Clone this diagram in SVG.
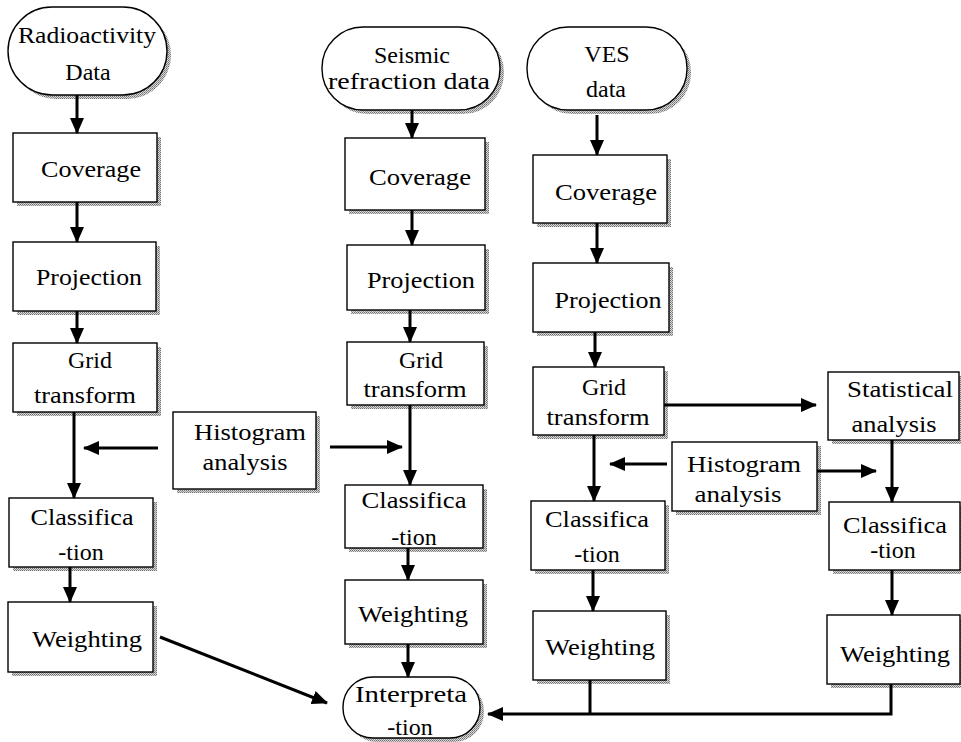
<svg xmlns="http://www.w3.org/2000/svg" width="961" height="742" viewBox="0 0 961 742">
<defs>
<marker id="ah" markerWidth="16" markerHeight="14" refX="15" refY="7" orient="auto" markerUnits="userSpaceOnUse">
<path d="M0,0 L16,7 L0,14 Z" fill="#000"/>
</marker>
<pattern id="dots" width="2" height="2" patternUnits="userSpaceOnUse">
<rect width="2" height="2" fill="#d8d8d8"/>
<rect width="1" height="1" fill="#707070"/>
<rect x="1" y="1" width="1" height="1" fill="#909090"/>
</pattern>
</defs>
<style>
.box{fill:#fff;stroke:#000;stroke-width:1.4}
.sh{fill:url(#dots);stroke:none}
.t{font-size:24px;fill:#000;text-anchor:middle}
.c{fill:none;stroke:#000;stroke-width:3}
.ca{fill:none;stroke:#000;stroke-width:3;marker-end:url(#ah)}
</style>
<rect width="961" height="742" fill="#fff"/>
<g font-family="Liberation Serif, DejaVu Serif, Times New Roman, serif">
<g id="radio">
<rect class="sh" x="12" y="11" width="159" height="88" rx="44"/>
<rect class="box" x="8" y="7" width="159" height="88" rx="44"/>
<text class="t" x="87" y="43" textLength="138" lengthAdjust="spacingAndGlyphs">Radioactivity</text>
<text class="t" x="88" y="80">Data</text>
</g>
<g id="cov1">
<rect class="sh" x="17" y="137" width="144" height="69"/>
<rect class="box" x="13" y="133" width="144" height="69"/>
<text class="t" x="91" y="177" textLength="100" lengthAdjust="spacingAndGlyphs">Coverage</text>
</g>
<g id="proj1">
<rect class="sh" x="17" y="246" width="143" height="69"/>
<rect class="box" x="13" y="242" width="143" height="69"/>
<text class="t" x="89" y="285" textLength="106" lengthAdjust="spacingAndGlyphs">Projection</text>
</g>
<g id="grid1">
<rect class="sh" x="17" y="347" width="144" height="69"/>
<rect class="box" x="13" y="343" width="144" height="69"/>
<text class="t" x="90" y="368">Grid</text>
<text class="t" x="85" y="403" textLength="102" lengthAdjust="spacingAndGlyphs">transform</text>
</g>
<g id="hist1">
<rect class="sh" x="177" y="416" width="143" height="77"/>
<rect class="box" x="173" y="412" width="143" height="77"/>
<text class="t" x="250" y="440" textLength="112" lengthAdjust="spacingAndGlyphs">Histogram</text>
<text class="t" x="245" y="470" textLength="85" lengthAdjust="spacingAndGlyphs">analysis</text>
</g>
<g id="class1">
<rect class="sh" x="13" y="502" width="144" height="69"/>
<rect class="box" x="9" y="498" width="144" height="69"/>
<text class="t" x="82" y="525" textLength="103" lengthAdjust="spacingAndGlyphs">Classifica</text>
<text class="t" x="81" y="560">-tion</text>
</g>
<g id="weight1">
<rect class="sh" x="12" y="606" width="145" height="70"/>
<rect class="box" x="8" y="602" width="145" height="70"/>
<text class="t" x="87" y="647" textLength="110" lengthAdjust="spacingAndGlyphs">Weighting</text>
</g>

<g id="seis">
<rect class="sh" x="326" y="31" width="178" height="83" rx="41"/>
<rect class="box" x="322" y="27" width="178" height="83" rx="41"/>
<text class="t" x="412" y="63">Seismic</text>
<text class="t" x="409" y="89" textLength="162" lengthAdjust="spacingAndGlyphs">refraction  data</text>
</g>
<g id="cov2">
<rect class="sh" x="349" y="142" width="140" height="72"/>
<rect class="box" x="345" y="138" width="140" height="72"/>
<text class="t" x="420" y="185" textLength="102" lengthAdjust="spacingAndGlyphs">Coverage</text>
</g>
<g id="proj2">
<rect class="sh" x="351" y="249" width="138" height="65"/>
<rect class="box" x="347" y="245" width="138" height="65"/>
<text class="t" x="421" y="288" textLength="108" lengthAdjust="spacingAndGlyphs">Projection</text>
</g>
<g id="grid2">
<rect class="sh" x="351" y="346" width="137" height="63"/>
<rect class="box" x="347" y="342" width="137" height="63"/>
<text class="t" x="421" y="368">Grid</text>
<text class="t" x="415" y="397" textLength="103" lengthAdjust="spacingAndGlyphs">transform</text>
</g>
<g id="class2">
<rect class="sh" x="349" y="489" width="138" height="63"/>
<rect class="box" x="345" y="485" width="138" height="63"/>
<text class="t" x="414" y="508" textLength="105" lengthAdjust="spacingAndGlyphs">Classifica</text>
<text class="t" x="414" y="545">-tion</text>
</g>
<g id="weight2">
<rect class="sh" x="349" y="584" width="138" height="64"/>
<rect class="box" x="345" y="580" width="138" height="64"/>
<text class="t" x="413" y="622" textLength="110" lengthAdjust="spacingAndGlyphs">Weighting</text>
</g>
<g id="interp">
<rect class="sh" x="347" y="681" width="137" height="61" rx="30"/>
<rect class="box" x="343" y="677" width="137" height="61" rx="30"/>
<text class="t" x="411" y="702" textLength="112" lengthAdjust="spacingAndGlyphs">Interpreta</text>
<text class="t" x="410" y="735">-tion</text>
</g>

<g id="ves">
<rect class="sh" x="531" y="31" width="160" height="83" rx="41"/>
<rect class="box" x="527" y="27" width="160" height="83" rx="41"/>
<text class="t" x="607" y="62">VES</text>
<text class="t" x="606" y="97">data</text>
</g>
<g id="cov3">
<rect class="sh" x="537" y="159" width="134" height="68"/>
<rect class="box" x="533" y="155" width="134" height="68"/>
<text class="t" x="606" y="200" textLength="102" lengthAdjust="spacingAndGlyphs">Coverage</text>
</g>
<g id="proj3">
<rect class="sh" x="537" y="267" width="136" height="69"/>
<rect class="box" x="533" y="263" width="136" height="69"/>
<text class="t" x="608" y="308" textLength="107" lengthAdjust="spacingAndGlyphs">Projection</text>
</g>
<g id="grid3">
<rect class="sh" x="537" y="371" width="131" height="68"/>
<rect class="box" x="533" y="367" width="131" height="68"/>
<text class="t" x="604" y="395">Grid</text>
<text class="t" x="598" y="425" textLength="103" lengthAdjust="spacingAndGlyphs">transform</text>
</g>
<g id="stat">
<rect class="sh" x="832" y="376" width="129" height="68"/>
<rect class="box" x="828" y="372" width="131" height="68"/>
<text class="t" x="900" y="397" textLength="106" lengthAdjust="spacingAndGlyphs">Statistical</text>
<text class="t" x="894" y="432" textLength="85" lengthAdjust="spacingAndGlyphs">analysis</text>
</g>
<g id="hist2">
<rect class="sh" x="676" y="446" width="145" height="69"/>
<rect class="box" x="672" y="442" width="145" height="69"/>
<text class="t" x="744" y="472" textLength="114" lengthAdjust="spacingAndGlyphs">Histogram</text>
<text class="t" x="738" y="502" textLength="87" lengthAdjust="spacingAndGlyphs">analysis</text>
</g>
<g id="class3">
<rect class="sh" x="535" y="505" width="134" height="69"/>
<rect class="box" x="531" y="501" width="134" height="69"/>
<text class="t" x="597" y="527" textLength="104" lengthAdjust="spacingAndGlyphs">Classifica</text>
<text class="t" x="597" y="562">-tion</text>
</g>
<g id="weight3">
<rect class="sh" x="537" y="615" width="133" height="69"/>
<rect class="box" x="533" y="611" width="133" height="69"/>
<text class="t" x="600" y="655" textLength="110" lengthAdjust="spacingAndGlyphs">Weighting</text>
</g>
<g id="class4">
<rect class="sh" x="833" y="506" width="128" height="68"/>
<rect class="box" x="829" y="502" width="131" height="68"/>
<text class="t" x="895" y="533" textLength="104" lengthAdjust="spacingAndGlyphs">Classifica</text>
<text class="t" x="893" y="558">-tion</text>
</g>
<g id="weight4">
<rect class="sh" x="831" y="619" width="130" height="69"/>
<rect class="box" x="827" y="615" width="133" height="69"/>
<text class="t" x="895" y="662" textLength="110" lengthAdjust="spacingAndGlyphs">Weighting</text>
</g>
</g>

<g id="connectors">
<line class="ca" x1="77" y1="95" x2="77" y2="133"/>
<line class="ca" x1="77" y1="202" x2="77" y2="242"/>
<line class="ca" x1="77" y1="311" x2="77" y2="343"/>
<line class="ca" x1="74" y1="412" x2="74" y2="498"/>
<line class="ca" x1="158" y1="448" x2="84" y2="448"/>
<line class="ca" x1="330" y1="447" x2="402" y2="447"/>
<line class="ca" x1="70" y1="567" x2="70" y2="602"/>
<line class="ca" x1="160" y1="637" x2="327" y2="703"/>
<line class="ca" x1="412" y1="110" x2="412" y2="138"/>
<line class="ca" x1="412" y1="210" x2="412" y2="245"/>
<line class="ca" x1="410" y1="310" x2="410" y2="342"/>
<line class="ca" x1="410" y1="405" x2="410" y2="485"/>
<line class="ca" x1="408" y1="548" x2="408" y2="580"/>
<line class="ca" x1="408" y1="644" x2="408" y2="677"/>
<line class="ca" x1="597" y1="115" x2="597" y2="155"/>
<line class="ca" x1="597" y1="223" x2="597" y2="263"/>
<line class="ca" x1="595" y1="332" x2="595" y2="367"/>
<line class="ca" x1="594" y1="435" x2="594" y2="501"/>
<line class="ca" x1="664" y1="405" x2="816" y2="405"/>
<line class="ca" x1="667" y1="464" x2="610" y2="464"/>
<line class="ca" x1="817" y1="471" x2="876" y2="471"/>
<line class="ca" x1="892" y1="440" x2="892" y2="502"/>
<line class="ca" x1="593" y1="570" x2="593" y2="611"/>
<line class="ca" x1="892" y1="570" x2="892" y2="615"/>
<line class="c" x1="590" y1="680" x2="590" y2="714"/>
<path class="ca" d="M891,684 V714 H488"/>
</g>
</svg>
